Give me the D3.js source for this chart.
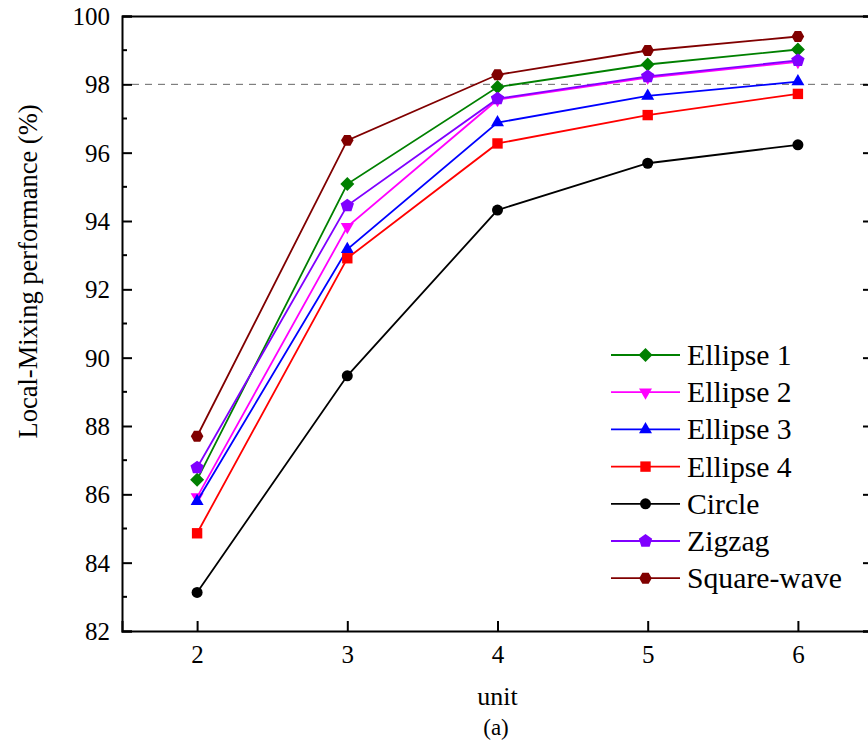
<!DOCTYPE html>
<html>
<head>
<meta charset="utf-8">
<script src="https://cdn.jsdelivr.net/npm/d3@7"></script>
<style>
  html, body { margin: 0; padding: 0; background: #fff; }
  svg { display: block; font-family: "Liberation Serif", "Times New Roman", serif; }
</style>
</head>
<body>
<svg id="chart" width="868" height="745"></svg>
<script>
// ---- data ----
const units = [2, 3, 4, 5, 6];
const seriesNames = ["Ellipse 1", "Ellipse 2", "Ellipse 3", "Ellipse 4", "Circle", "Zigzag", "Square-wave"];
const ellipse1   = [86.43, 95.08, 97.92, 98.58, 99.02];
const ellipse2   = [85.92, 93.83, 97.55, 98.20, 98.66];
const ellipse3   = [85.80, 93.17, 96.88, 97.66, 98.08];
const ellipse4   = [84.86, 92.91, 96.27, 97.10, 97.72];
const circle     = [83.13, 89.47, 94.32, 95.69, 96.23];
const zigzag     = [86.78, 94.45, 97.58, 98.23, 98.70];
const squareWave = [87.70, 96.36, 98.28, 98.99, 99.40];
const yTicks = [82, 84, 86, 88, 90, 92, 94, 96, 98, 100];
const yMinorTicks = [83, 85, 87, 89, 91, 93, 95, 97, 99];
const refLine = 98;

const seriesValues = [ellipse1, ellipse2, ellipse3, ellipse4, circle, zigzag, squareWave];
const colors = ["#008000", "#ff00ff", "#0000ff", "#ff0000", "#000000", "#8000ff", "#800000"];
const shapes = ["diamond", "triangleDown", "triangleUp", "square", "circle", "pentagon", "hexagon"];

// ---- layout ----
const svg = d3.select("#chart");
const pLeft = 122, pRight = 873, pTop = 16, pBottom = 631;
const x = d3.scaleLinear().domain([1.5, 6.5]).range([pLeft, pRight]);
const y = d3.scaleLinear().domain([82, 100]).range([pBottom, pTop]);
const serif = '"Liberation Serif", "Times New Roman", serif';

function shapePath(type) {
  const pts = [];
  if (type === "circle") {
    const p = d3.path(); p.arc(0, 0, 5.5, 0, 2 * Math.PI); return p.toString();
  }
  if (type === "square") { const h = 5.2; return `M${-h},${-h}H${h}V${h}H${-h}Z`; }
  if (type === "diamond") { const h = 7; return `M0,${-h}L${h},0L0,${h}L${-h},0Z`; }
  if (type === "triangleUp") { const s = 13, hh = s * Math.sqrt(3) / 2; return `M0,${-hh*2/3}L${s/2},${hh/3}L${-s/2},${hh/3}Z`; }
  if (type === "triangleDown") { const s = 13, hh = s * Math.sqrt(3) / 2; return `M0,${hh*2/3}L${s/2},${-hh/3}L${-s/2},${-hh/3}Z`; }
  const n = type === "pentagon" ? 5 : 6, r = type === "pentagon" ? 7 : 6.3;
  const off = type === "pentagon" ? -Math.PI / 2 : 0;
  for (let i = 0; i < n; i++) {
    const a = off + i * 2 * Math.PI / n;
    pts.push([r * Math.cos(a), r * Math.sin(a)]);
  }
  return "M" + pts.map(p => p.join(",")).join("L") + "Z";
}

// reference dashed line
svg.append("line")
  .attr("x1", pLeft + 10).attr("x2", pRight)
  .attr("y1", y(refLine)).attr("y2", y(refLine))
  .attr("stroke", "#666").attr("stroke-width", 1)
  .attr("stroke-dasharray", "7,6");

// axes
const tickFont = "25px";
const yAxisL = d3.axisLeft(y).tickValues(yTicks).tickSize(-10).tickPadding(12).tickFormat(d3.format("d"));
const gL = svg.append("g").attr("transform", `translate(${pLeft},0)`).call(yAxisL);
gL.append("g").selectAll("line").data(yMinorTicks).join("line")
  .attr("x1", 0).attr("x2", 5).attr("y1", d => y(d)).attr("y2", d => y(d))
  .attr("stroke", "#000").attr("stroke-width", 2);

const yAxisR = d3.axisRight(y).tickValues(yTicks).tickSize(-10).tickFormat("");
const gR = svg.append("g").attr("transform", `translate(${pRight},0)`).call(yAxisR);
gR.append("g").selectAll("line").data(yMinorTicks).join("line")
  .attr("x1", 0).attr("x2", -5).attr("y1", d => y(d)).attr("y2", d => y(d))
  .attr("stroke", "#000").attr("stroke-width", 2);

const xAxisB = d3.axisBottom(x).tickValues(units).tickSize(-10).tickPadding(14).tickFormat(d3.format("d"));
const gB = svg.append("g").attr("transform", `translate(0,${pBottom})`).call(xAxisB);

const xAxisT = d3.axisTop(x).tickValues([]).tickSize(0);
const gT = svg.append("g").attr("transform", `translate(0,${pTop})`).call(xAxisT);

[gL, gR, gB, gT].forEach(g => {
  g.attr("font-family", serif);
  g.select(".domain").attr("stroke", "#000").attr("stroke-width", 2);
  g.selectAll(".tick line").attr("stroke", "#000").attr("stroke-width", 2);
  g.selectAll(".tick text").attr("fill", "#000")
    .style("font-family", serif)
    .style("font-size", tickFont);
});
gL.selectAll(".tick text").attr("dy", "0.34em");
gB.selectAll(".tick text").attr("dy", "0.72em");

// series lines and markers
const line = d3.line().x((d, i) => x(units[i])).y(d => y(d));
seriesValues.forEach((vals, s) => {
  const g = svg.append("g");
  g.append("path").datum(vals).attr("d", line)
    .attr("fill", "none").attr("stroke", colors[s]).attr("stroke-width", 1.8);
  g.selectAll("path.m").data(vals).join("path").attr("class", "m")
    .attr("d", shapePath(shapes[s]))
    .attr("transform", (d, i) => `translate(${x(units[i])},${y(d)})`)
    .attr("fill", colors[s]);
});

// axis titles
svg.append("text")
  .attr("transform", `translate(37,${271.5}) rotate(-90)`)
  .attr("text-anchor", "middle")
  .style("font-size", "26.5px").attr("fill", "#000")
  .text("Local-Mixing performance (%)");

svg.append("text")
  .attr("x", 497.5).attr("y", 705)
  .attr("text-anchor", "middle")
  .style("font-size", "26px").attr("fill", "#000")
  .text("unit");

svg.append("text")
  .attr("x", 496).attr("y", 735)
  .attr("text-anchor", "middle")
  .style("font-size", "23px").attr("fill", "#000")
  .text("(a)");

// legend
const legend = svg.append("g");
seriesNames.forEach((name, s) => {
  const cy = 355 + s * 37.2;
  legend.append("line").attr("x1", 611).attr("x2", 680).attr("y1", cy).attr("y2", cy)
    .attr("stroke", colors[s]).attr("stroke-width", 1.8);
  legend.append("path").attr("d", shapePath(shapes[s]))
    .attr("transform", `translate(645.5,${cy})`).attr("fill", colors[s]);
  legend.append("text").attr("x", 687).attr("y", cy + 10)
    .style("font-size", "29.7px").attr("fill", "#000").text(name);
});
</script>
</body>
</html>
